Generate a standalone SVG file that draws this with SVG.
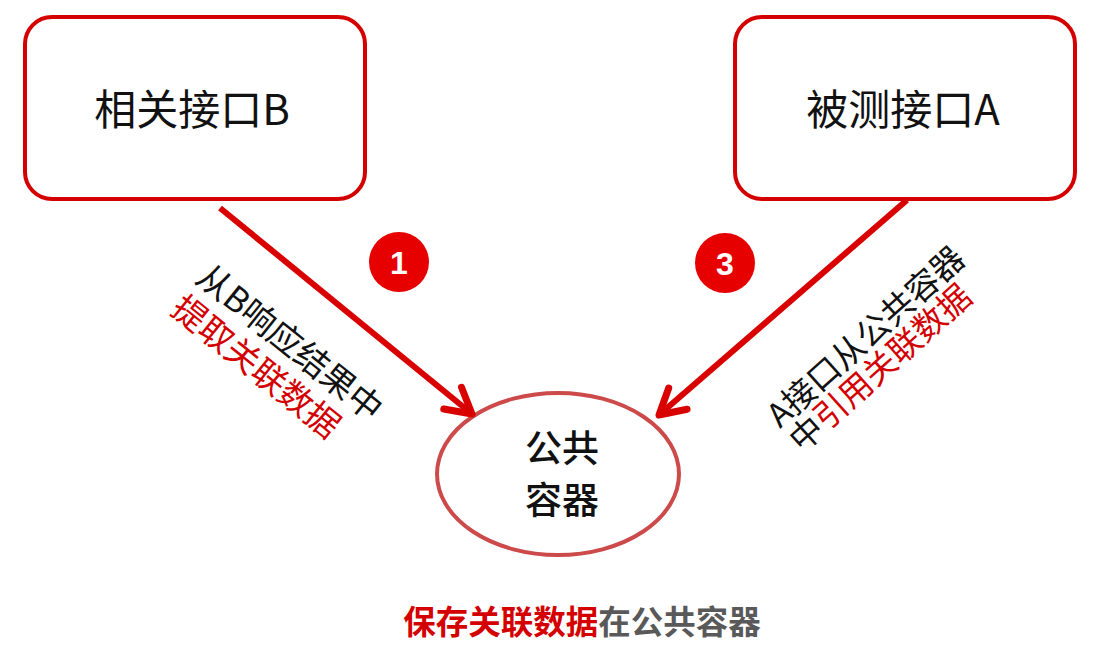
<svg xmlns="http://www.w3.org/2000/svg" width="1111" height="656" viewBox="0 0 1111 656">
<defs>
<style>
.box{fill:#fff;stroke:#d40000;stroke-width:4}
.t{font-family:"Noto Sans CJK SC","Noto Sans",sans-serif;fill:#111}
.red{fill:#d40000}
.arr{stroke:#d90000;stroke-width:6;fill:none}
.badge{fill:#e60000}
.num{font-family:"Liberation Sans",Arial,sans-serif;font-weight:bold;font-size:32px;fill:#fff;text-anchor:middle}
</style>
<marker id="ah" markerUnits="userSpaceOnUse" viewBox="-30 -20 36 40" refX="0" refY="0" markerWidth="36" markerHeight="40" orient="auto">
<path d="M-25 -14 L0 0 L-25 14" fill="none" stroke="#d90000" stroke-width="7" stroke-linecap="round" stroke-linejoin="round"/>
</marker>
</defs>
<rect width="1111" height="656" fill="#fff"/>
<g id="nodeB">
<rect class="box" x="25" y="17" width="340" height="182" rx="27"/>
<text class="t" x="192" y="125" font-size="42" text-anchor="middle">相关接口B</text>
</g>
<g id="nodeA">
<rect class="box" x="735" y="17" width="340" height="182" rx="27"/>
<text class="t" x="903" y="125" font-size="42" text-anchor="middle">被测接口A</text>
</g>
<g id="container">
<ellipse cx="558" cy="474" rx="121" ry="81" fill="#fff" stroke="#cc4a4a" stroke-width="4"/>
<text class="t" x="562" y="462" font-size="37" font-weight="500" text-anchor="middle">公共</text>
<text class="t" x="562" y="514" font-size="37" font-weight="500" text-anchor="middle">容器</text>
</g>
<g id="connectors">
<line class="arr" x1="220" y1="208" x2="472" y2="414" marker-end="url(#ah)"/>
<line class="arr" x1="907" y1="200" x2="659" y2="415" marker-end="url(#ah)"/>
</g>
<g id="badge1">
<circle class="badge" cx="399" cy="262" r="30"/>
<text class="num" x="399" y="274">1</text>
</g>
<g id="badge3">
<circle class="badge" cx="725" cy="263" r="30"/>
<text class="num" x="725" y="275">3</text>
</g>
<g id="label1" transform="translate(194,281) rotate(38.8)">
<text class="t" x="0" y="0" font-size="34">从B响应结果中</text>
<text class="t red" x="0" y="40" font-size="34">提取关联数据</text>
</g>
<g id="label3" transform="translate(780,429) rotate(-41.8)">
<text class="t" x="0" y="0" font-size="33">A接口从公共容器</text>
<text class="t" x="0" y="33" font-size="33">中<tspan class="red">引用关联数据</tspan></text>
</g>
<g id="caption">
<text class="t" x="582" y="634" font-size="32.5" font-weight="bold" text-anchor="middle"><tspan fill="#d40000">保存关联数据</tspan><tspan fill="#595959">在公共容器</tspan></text>
</g>
</svg>
